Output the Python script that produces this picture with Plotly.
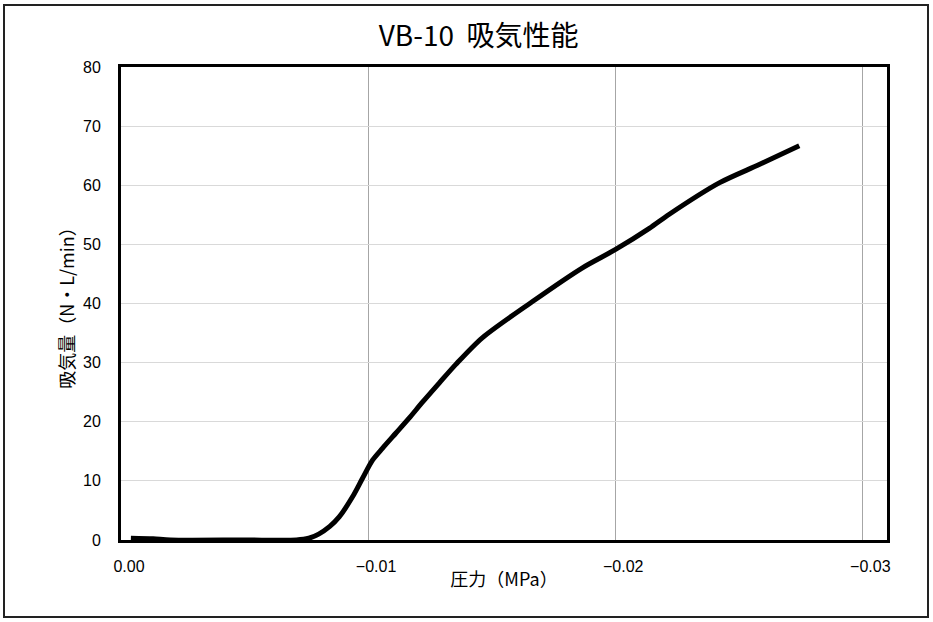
import plotly.graph_objects as go

# 圧力 (MPa) and 吸気量 (N·L/min)
pressure = [-0.0004, -0.0013, -0.0020, -0.0050, -0.0071, -0.0076, -0.0080, -0.00845,
            -0.00883, -0.00937, -0.00977, -0.01018, -0.01058, -0.01112, -0.01166, -0.0122,
            -0.01287, -0.01355, -0.01462, -0.01664, -0.01866, -0.0200, -0.02138,
            -0.02219, -0.02421, -0.02583, -0.02745]
flow = [0.3, 0.2, 0.0, 0.0, 0.0, 0.3, 1.0, 2.3,
        3.9, 7.3, 10.4, 13.5, 15.5, 18.05, 20.6, 23.3,
        26.5, 29.7, 34.2, 40.3, 46.0, 49.1, 52.7,
        55.1, 60.4, 63.5, 66.7]

x_ticks = [0.0, -0.01, -0.02, -0.03]
x_tick_labels = ["0.00", "−0.01", "−0.02", "−0.03"]
y_ticks = [0, 10, 20, 30, 40, 50, 60, 70, 80]

latin = "Liberation Sans, Arial, Noto Sans CJK JP, sans-serif"
cjk = "Noto Sans CJK JP, sans-serif"

# plot area in pixels: left 121, right 887, top 67, bottom 540
W, H = 933, 622
L, R, T, B = 121, 887, 67, 540
pw, ph = R - L, B - T

fig = go.Figure()
fig.add_trace(go.Scatter(
    x=pressure, y=flow, mode="lines",
    line=dict(color="black", width=5, shape="spline", smoothing=0.8),
    showlegend=False, hoverinfo="x+y",
))

fig.update_layout(
    width=W, height=H,
    margin=dict(l=L, r=W - R, t=T, b=H - B),
    paper_bgcolor="white", plot_bgcolor="white",
    font=dict(family=latin, size=16, color="black"),
    title=dict(text="VB-10  吸気性能", x=0.513, xanchor="center", y=1 - 36 / H, yanchor="middle",
               font=dict(family=cjk, size=28, color="black")),
    xaxis=dict(
        range=[0, -0.031], tickvals=x_ticks, ticktext=x_tick_labels,
        showgrid=True, gridcolor="#a6a6a6", gridwidth=1,
        showline=True, linecolor="black", linewidth=3, mirror=True,
        zeroline=False, ticks="", ticklabelstandoff=10, ticklabelshift=-8,
        tickfont=dict(family=latin, size=16),
        title=dict(text="圧力（MPa）", standoff=0, font=dict(family=cjk, size=18)),
    ),
    yaxis=dict(
        range=[0, 80], tickvals=y_ticks,
        showgrid=True, gridcolor="#d9d9d9", gridwidth=1,
        showline=True, linecolor="black", linewidth=3, mirror=True,
        zeroline=False, ticks="", ticklabelstandoff=14,
        tickfont=dict(family=latin, size=16),
        title=dict(text="吸気量（N・L/min）", standoff=4, font=dict(family=cjk, size=18)),
    ),
    shapes=[dict(type="rect", xref="paper", yref="paper",
                 x0=(4 - L) / pw, x1=(928 - L) / pw,
                 y0=(B - 617) / ph, y1=(B - 5) / ph,
                 line=dict(color="#222222", width=2), fillcolor="rgba(0,0,0,0)", layer="below")],
)

fig.write_html("out.html", config={"displayModeBar": False},
               post_script="document.body.style.margin='0';")
